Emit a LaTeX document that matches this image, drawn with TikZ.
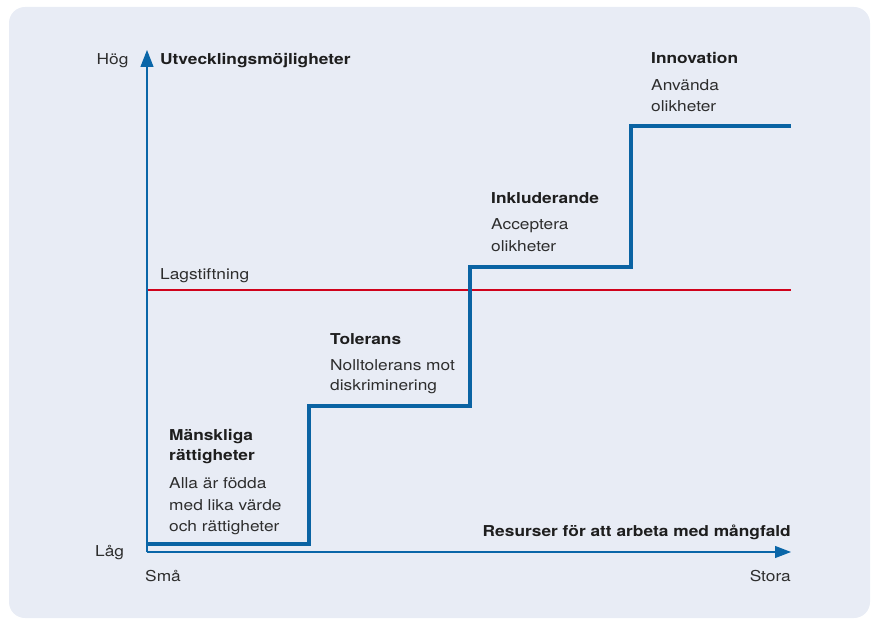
\documentclass[tikz,border=0pt]{standalone}
\usepackage{fontspec}
\setmainfont{TeX Gyre Heros}[FakeStretch=1.155]
\usetikzlibrary{arrows.meta}
\definecolor{bgcol}{HTML}{E8ECF5}
\definecolor{axblue}{HTML}{0A66A8}
\definecolor{stepblue}{HTML}{0A63A3}
\definecolor{lawred}{HTML}{D0021B}
\definecolor{txt}{HTML}{1E1E1E}
\definecolor{txtreg}{HTML}{2E2E2E}
\tikzset{
  lbl/.style={anchor=base west, inner sep=0pt, text=txtreg, font=\fontsize{15}{18}\selectfont},
  lblr/.style={anchor=base east, inner sep=0pt, text=txtreg, font=\fontsize{15}{18}\selectfont},
  ttl/.style={anchor=base west, inner sep=0pt, text=txt, font=\fontsize{15}{18}\selectfont\bfseries},
  ttlr/.style={anchor=base east, inner sep=0pt, text=txt, font=\fontsize{15}{18}\selectfont\bfseries},
  axis/.style={draw=axblue, line width=1.2pt},
  stepline/.style={draw=stepblue, line width=4pt, line join=miter, line cap=butt},
}
\begin{document}
\begin{tikzpicture}[x=1pt,y=-1pt]
\useasboundingbox (0,0) rectangle (872,620);
\fill[bgcol, rounded corners=16pt] (9,7) rectangle (870,618);
% coordinates
\coordinate (O) at (147,552);
\coordinate (Ytip) at (147,50);
\coordinate (Xtip) at (791,552);
\coordinate (L1) at (147,290);
\coordinate (L2) at (791,290);
% law line
\draw[draw=lawred, line width=1.4pt] (L1) -- (L2);
% step line
\coordinate (S0) at (147,544);
\coordinate (S1) at (308.6,544);
\coordinate (S2) at (308.6,406);
\coordinate (S3) at (469.6,406);
\coordinate (S4) at (469.6,266.5);
\coordinate (S5) at (630.6,266.5);
\coordinate (S6) at (630.6,126.5);
\coordinate (S7) at (791,126.5);
\draw[stepline] (S0) -- (S1) -- (S2) -- (S3) -- (S4) -- (S5) -- (S6) -- (S7);
% axes
\draw[axis, -{Triangle[length=17pt,width=13pt]}] (O) -- (Ytip);
\draw[axis, -{Triangle[length=16pt,width=12pt]}] (O) -- (Xtip);
% axis labels
\node[lbl] (hog) at (96.5,65) {Hög};
\node[ttl] (ytitle) at (160,65) {Utvecklingsmöjligheter};
\node[lbl] (lag) at (95,556) {Låg};
\node[lbl] (sma) at (145,581) {Små};
\node[lblr] (stora) at (791,581) {Stora};
\node[ttlr] (xtitle) at (791,536.7) {Resurser för att arbeta med mångfald};
\node[lbl] (law) at (160,279.3) {Lagstiftning};
% stage 1
\node[ttl] (m1) at (169,440.7) {Mänskliga};
\node[ttl] (m2) at (169,460.7) {rättigheter};
\node[lbl] (m3) at (169,488.3) {Alla är födda};
\node[lbl] (m4) at (169,510) {med lika värde};
\node[lbl] (m5) at (169,531) {och rättigheter};
% stage 2
\node[ttl] (t1) at (330,344) {Tolerans};
\node[lbl] (t2) at (330,370) {Nolltolerans mot};
\node[lbl] (t3) at (330,390.7) {diskriminering};
% stage 3
\node[ttl] (i1) at (491,204) {Inkluderande};
\node[lbl] (i2) at (491,230) {Acceptera};
\node[lbl] (i3) at (491,251.7) {olikheter};
% stage 4
\node[ttl] (n1) at (651,64) {Innovation};
\node[lbl] (n2) at (651,90.7) {Använda};
\node[lbl] (n3) at (651,111.7) {olikheter};
\end{tikzpicture}
\end{document}
